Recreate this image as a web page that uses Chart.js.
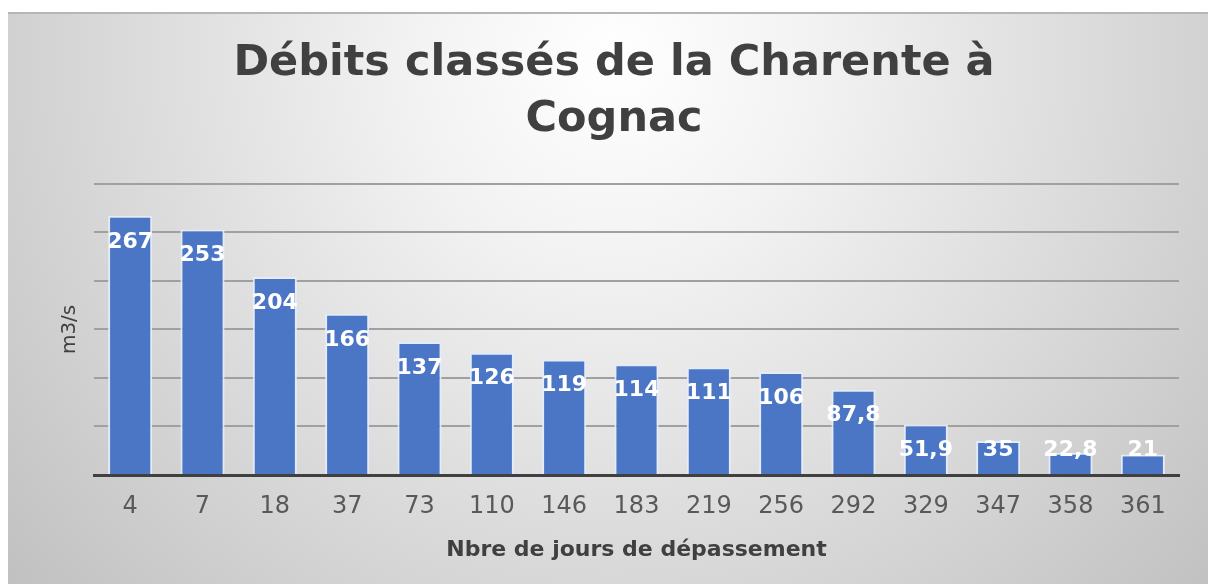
<!DOCTYPE html>
<html lang="fr">
<head>
<meta charset="utf-8">
<title>Débits classés de la Charente à Cognac</title>
<script src="https://cdn.jsdelivr.net/npm/chart.js@4.4.1/dist/chart.umd.min.js"></script>
<style>
  html, body { margin: 0; padding: 0; background: #ffffff; }
  canvas { display: block; }
</style>
</head>
<body>
<canvas id="debits" width="1208" height="584"></canvas>
<script>
// Nombre de jours de dépassement (catégories)
const jours = ['4', '7', '18', '37', '73', '110', '146', '183', '219', '256', '292', '329', '347', '358', '361'];
// Débit dépassé (m3/s)
const debits = [267, 253, 204, 166, 137, 126, 119, 114, 111, 106, 87.8, 51.9, 35, 22.8, 21];
// Axe des débits
const debitMax = 300;
const debitPas = 50;
// Textes
const titre = ['Débits classés de la Charente à', 'Cognac'];
const titreAxeY = 'm3/s';
const titreAxeX = 'Nbre de jours de dépassement';

const FONT = 'DejaVu Sans';

// Fond gris dégradé du cadre
const fondCadre = {
  id: 'fondCadre',
  beforeDraw(chart) {
    const { ctx, width, height } = chart;
    ctx.save();
    ctx.fillStyle = '#ffffff';
    ctx.fillRect(0, 0, width, height);
    const x0 = 8, y0 = 12;
    const g = ctx.createRadialGradient(614, 60, 0, 614, 60, 820);
    g.addColorStop(0, '#ffffff');
    g.addColorStop(0.25, '#f2f2f2');
    g.addColorStop(1, '#bfbfbf');
    ctx.fillStyle = g;
    ctx.fillRect(x0, y0, width - x0, height - y0);
    ctx.fillStyle = '#b6b6b6';
    ctx.fillRect(x0, y0, width - x0, 2);
    ctx.restore();
  }
};

// Valeurs écrites en blanc dans le haut des barres
const etiquettes = {
  id: 'etiquettes',
  afterDatasetsDraw(chart) {
    const { ctx } = chart;
    const meta = chart.getDatasetMeta(0);
    const base = chart.scales.y.getPixelForValue(0);
    ctx.save();
    ctx.font = 'bold 22px "' + FONT + '"';
    ctx.fillStyle = '#ffffff';
    ctx.textAlign = 'center';
    ctx.textBaseline = 'middle';
    meta.data.forEach((barre, i) => {
      const v = chart.data.datasets[0].data[i];
      const y = Math.min(barre.y + 26, base - 25);
      ctx.fillText(String(v).replace('.', ','), barre.x, y);
    });
    ctx.restore();
  }
};

new Chart(document.getElementById('debits'), {
  type: 'bar',
  data: {
    labels: jours,
    datasets: [{
      data: debits,
      backgroundColor: '#4b76c6',
      borderColor: 'rgba(228,236,250,0.95)',
      borderWidth: 2,
      barPercentage: 0.61,
      categoryPercentage: 1
    }]
  },
  options: {
    responsive: false,
    animation: false,
    layout: { padding: { left: 49, right: 29, top: 12, bottom: 0 } },
    plugins: {
      legend: { display: false },
      tooltip: { enabled: false },
      title: {
        display: true,
        text: titre,
        color: '#404040',
        font: { family: FONT, size: 43, weight: 'bold', lineHeight: 1.3 },
        padding: { top: 24, bottom: 36 }
      }
    },
    scales: {
      x: {
        grid: { display: false, drawTicks: false },
        border: { display: true, color: '#404040', width: 3 },
        ticks: {
          color: '#595959',
          font: { family: FONT, size: 24 },
          padding: 17,
          maxRotation: 0,
          autoSkip: false
        },
        title: {
          display: true,
          text: titreAxeX,
          color: '#404040',
          font: { family: FONT, size: 22, weight: 'bold' },
          padding: { top: 0, bottom: 21 }
        },
        afterFit(scale) { scale.height = 109; }
      },
      y: {
        min: 0,
        max: debitMax,
        ticks: { display: false, stepSize: debitPas },
        grid: {
          drawTicks: false,
          lineWidth: 2,
          color: (c) => (c.tick && c.tick.value === 0) ? 'rgba(0,0,0,0)' : '#a0a0a0'
        },
        border: { display: false },
        title: {
          display: true,
          text: titreAxeY,
          color: '#404040',
          font: { family: FONT, size: 20 },
          padding: { top: 9, bottom: 0 }
        },
        afterFit(scale) { scale.width = 45; }
      }
    }
  },
  plugins: [fondCadre, etiquettes]
});
</script>
</body>
</html>
